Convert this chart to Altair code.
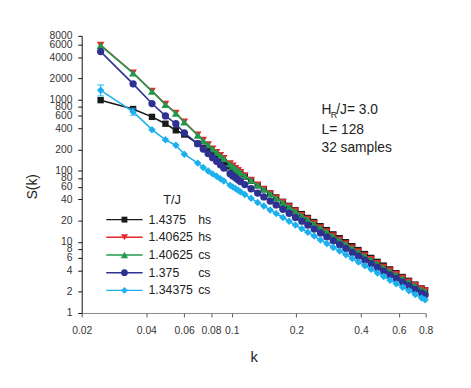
import altair as alt
import pandas as pd

# ---- data ----
k_values = [0.0245, 0.0347, 0.0425, 0.0491, 0.0549, 0.0601, 0.0694, 0.0736, 0.0776,
            0.0814, 0.0850, 0.0885, 0.0918, 0.0982, 0.1012, 0.1041, 0.1070, 0.1097,
            0.115, 0.123, 0.132, 0.141, 0.151, 0.161, 0.173, 0.185, 0.198, 0.212,
            0.226, 0.242, 0.259, 0.277, 0.297, 0.318, 0.340, 0.364, 0.389, 0.417,
            0.446, 0.477, 0.510, 0.546, 0.584, 0.625, 0.669, 0.716, 0.766, 0.795]

s_14375_hs = [994, 746, 578, 463, 374, 326, 242, 213, 191, 172, 158, 145, 134, 116, 109, 103, 97.2, 92.3,
              83.6, 72.9, 63.1, 55.5, 48.3, 42.4, 36.8, 32.3, 28.1, 24.7, 21.8, 19.1, 16.7, 14.7, 12.8,
              11.3, 9.93, 8.73, 7.69, 6.76, 5.97, 5.25, 4.65, 4.11, 3.63, 3.21, 2.84, 2.51, 2.22, 2.08]
s_140625_hs = [5950, 2420, 1340, 875, 655, 492, 323, 272, 235, 206, 184, 166, 151, 127, 118, 109, 102, 96,
               86.5, 74.8, 64.0, 55.8, 48.1, 42.0, 36.2, 31.5, 27.4, 23.8, 21.0, 18.3, 16.0, 14.0, 12.2,
               10.75, 9.46, 8.30, 7.31, 6.43, 5.69, 5.01, 4.45, 3.95, 3.50, 3.10, 2.76, 2.46, 2.19, 2.06]
s_140625_cs = [5840, 2390, 1320, 864, 648, 487, 319, 269, 232, 204, 182, 164, 149, 125, 116, 108, 101, 94.8,
               85.3, 73.8, 63.2, 55.1, 47.5, 41.5, 35.7, 31.1, 27.0, 23.5, 20.7, 18.0, 15.8, 13.8, 12.05,
               10.6, 9.33, 8.18, 7.21, 6.34, 5.61, 4.94, 4.39, 3.89, 3.45, 3.05, 2.72, 2.42, 2.15, 2.02]
s_1375_cs = [4800, 1686, 891, 597, 463, 343, 242, 204, 176, 154, 137, 122, 110, 91.4, 85.3, 80.0, 75.0, 70.8,
             64.3, 56.2, 48.9, 43.1, 37.7, 33.2, 28.9, 25.4, 22.2, 19.6, 17.3, 15.2, 13.4, 11.8, 10.4,
             9.14, 8.09, 7.13, 6.31, 5.57, 4.94, 4.37, 3.87, 3.44, 3.06, 2.72, 2.42, 2.15, 1.91, 1.79]
s_134375_cs = [1367, 685, 382, 275, 230, 172, 129, 112, 100, 91, 84, 77.6, 72.4, 63.1, 59.6, 56.5, 53.6, 50.9,
               46.6, 41.2, 36.1, 32.1, 28.3, 25.2, 22.1, 19.6, 17.3, 15.3, 13.7, 12.1, 10.7, 9.51, 8.38,
               7.45, 6.62, 5.86, 5.21, 4.62, 4.12, 3.66, 3.26, 2.90, 2.59, 2.30, 2.05, 1.82, 1.63, 1.53]

err_k = [0.0245, 0.0347]
err_lo = [1140, 610]
err_hi = [1630, 760]

series_values = [s_14375_hs, s_140625_hs, s_140625_cs, s_1375_cs, s_134375_cs]
series_num = ["1.4375", "1.40625", "1.40625", "1.375", "1.34375"]
series_suffix = ["hs", "hs", "cs", "cs", "cs"]
series_colors = ["#1a1a1a", "#e8242c", "#1f9a4c", "#2e3192", "#1cb1ee"]
series_shapes = ["square", "triangle-down", "triangle-up", "circle", "diamond"]
series_sizes = [42, 60, 66, 55, 58]

x_ticks = [0.02, 0.04, 0.06, 0.08, 0.1, 0.2, 0.4, 0.6, 0.8]
y_ticks = [1, 2, 4, 6, 8, 10, 20, 40, 60, 80, 100, 200, 400, 600, 800, 1000, 2000, 4000, 6000, 8000]

FONT = "Liberation Sans"

xscale = alt.Scale(type="log", domain=[0.02, 0.8], nice=False)
yscale = alt.Scale(type="log", domain=[1, 8000], nice=False)
xaxis = alt.Axis(values=x_ticks, format="~g", title="k", grid=False, tickSize=4,
                 labelFontSize=10.5, labelColor="#333", labelPadding=9, domainColor="#888",
                 tickColor="#555", titleFontSize=15, titleFont=FONT, labelFont=FONT,
                 titleFontWeight="normal", titlePadding=14, titleColor="#222", labelFlush=False)
yaxis = alt.Axis(values=y_ticks, format="~g", title="S(k)", grid=False, tickSize=4,
                 labelFontSize=10.5, labelColor="#333", labelPadding=6, domainColor="#111",
                 tickColor="#111", titleFontSize=14, titleFont=FONT, labelFont=FONT,
                 titleFontWeight="normal", titleX=-50, titleY=153, titleAngle=270,
                 titleAlign="center", titleBaseline="middle", titleColor="#222",
                 labelFlush=False, labelOverlap=False)


def X(field="k"):
    return alt.X(f"{field}:Q", scale=xscale, axis=xaxis)


def Y(field="S"):
    return alt.Y(f"{field}:Q", scale=yscale, axis=yaxis)


layers = []
for vals, col, shp, sz in zip(series_values, series_colors, series_shapes, series_sizes):
    df = pd.DataFrame({"k": k_values, "S": vals})
    layers.append(alt.Chart(df).mark_line(color=col, strokeWidth=1.6).encode(
        x=X(), y=Y(), order="k:Q"))
    layers.append(alt.Chart(df).mark_point(shape=shp, filled=True, size=sz, color=col,
                                           opacity=1, strokeWidth=0).encode(x=X(), y=Y()))

# error bars on the lowest-T series
edf = pd.DataFrame({"k": err_k, "lo": err_lo, "hi": err_hi})
ecol = series_colors[4]
layers.append(alt.Chart(edf).mark_rule(color=ecol, strokeWidth=1.2).encode(
    x=X(), y=Y("lo"), y2="hi:Q"))
layers.append(alt.Chart(edf).mark_tick(color=ecol, orient="horizontal", size=7, thickness=1.3).encode(
    x=X(), y=Y("hi")))
layers.append(alt.Chart(edf).mark_tick(color=ecol, orient="horizontal", size=7, thickness=1.3).encode(
    x=X(), y=Y("lo")))

# manual legend (inside plot, lower-left)
one = pd.DataFrame({"a": [0]})
legend_top = 187
legend_step = 18
layers.append(alt.Chart(one).mark_text(align="left", baseline="middle", fontSize=13, font=FONT,
                                       color="#222").encode(
    x=alt.value(83), y=alt.value(167), text=alt.value("T/J")))
for i, (num, suf, col, shp, sz) in enumerate(zip(series_num, series_suffix, series_colors,
                                                  series_shapes, series_sizes)):
    ly = legend_top + i * legend_step
    layers.append(alt.Chart(one).mark_rule(color=col, strokeWidth=1.5).encode(
        x=alt.value(25), x2=alt.value(62), y=alt.value(ly)))
    layers.append(alt.Chart(one).mark_point(shape=shp, filled=True, size=sz * 0.85, color=col, opacity=1,
                                            strokeWidth=0).encode(x=alt.value(43.5), y=alt.value(ly)))
    layers.append(alt.Chart(one).mark_text(align="left", baseline="middle", fontSize=12.5, font=FONT,
                                           color="#222").encode(
        x=alt.value(68), y=alt.value(ly), text=alt.value(num)))
    layers.append(alt.Chart(one).mark_text(align="left", baseline="middle", fontSize=12.5, font=FONT,
                                           color="#222").encode(
        x=alt.value(118.5), y=alt.value(ly), text=alt.value(suf)))

# annotation
ann = [("H", 244, 76, 14), ("R", 253.5, 80.5, 9), ("/J= 3.0", 259, 76, 14),
       ("L= 128", 244, 96, 14), ("32 samples", 244, 114.5, 14)]
for txt, ax, ay, fs in ann:
    layers.append(alt.Chart(one).mark_text(align="left", baseline="middle", fontSize=fs, font=FONT,
                                           color="#222").encode(
        x=alt.value(ax), y=alt.value(ay), text=alt.value(txt)))

chart = alt.layer(*layers).properties(
    width=350, height=282,
    autosize=alt.AutoSizeParams(type="none"),
    padding={"left": 75, "top": 25, "right": 38, "bottom": 73},
).configure_view(stroke=None)

chart.save("out.html", embed_options={"renderer": "svg", "actions": False})
